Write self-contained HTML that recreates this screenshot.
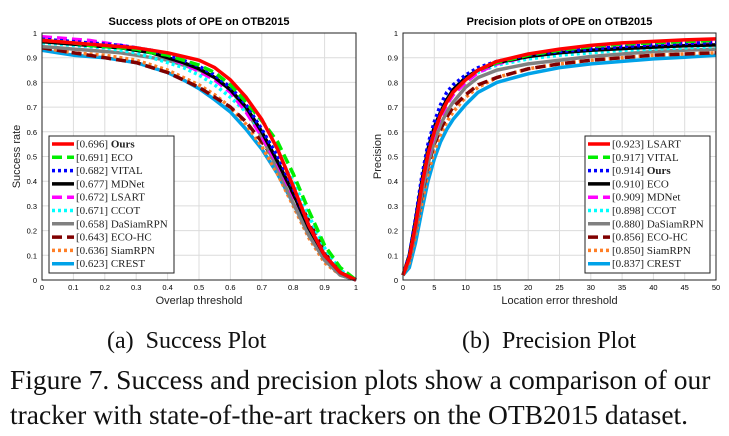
<!DOCTYPE html>
<html><head><meta charset="utf-8"><style>
body{margin:0;background:#fff;width:729px;height:436px;overflow:hidden;position:relative}
svg{position:absolute;left:0;top:0}
.cap{position:absolute;font-family:"Liberation Serif",serif;color:#111;white-space:nowrap}
</style></head><body>
<svg id="fig" width="729" height="436"></svg>
<div class="cap" style="left:107px;top:328px;font-size:24px">(a)&nbsp; Success Plot</div>
<div class="cap" style="left:462px;top:328px;font-size:24px">(b)&nbsp; Precision Plot</div>
<div class="cap" style="left:10px;top:364px;font-size:27.5px">Figure 7. Success and precision plots show a comparison of our</div>
<div class="cap" style="left:10px;top:399px;font-size:27.5px">tracker with state-of-the-art trackers on the OTB2015 dataset.</div>
<script>
const successX=[0,0.05,0.1,0.15,0.2,0.25,0.3,0.35,0.4,0.45,0.5,0.55,0.6,0.65,0.7,0.75,0.8,0.85,0.9,0.95,1];
const sOurs=[0.97,0.965,0.96,0.955,0.95,0.945,0.94,0.93,0.92,0.905,0.89,0.86,0.81,0.74,0.65,0.53,0.38,0.22,0.10,0.03,0];
const sECO=[0.97,0.965,0.96,0.95,0.945,0.94,0.935,0.92,0.91,0.89,0.87,0.84,0.79,0.72,0.645,0.56,0.43,0.28,0.14,0.05,0];
const sVITAL=[0.975,0.97,0.965,0.96,0.955,0.95,0.94,0.93,0.91,0.89,0.865,0.83,0.78,0.71,0.61,0.50,0.37,0.22,0.10,0.03,0];
const sMDNet=[0.965,0.96,0.955,0.95,0.945,0.94,0.93,0.92,0.9,0.88,0.855,0.82,0.77,0.70,0.60,0.48,0.35,0.21,0.10,0.03,0];
const sLSART=[0.985,0.98,0.975,0.97,0.96,0.95,0.94,0.92,0.9,0.875,0.845,0.81,0.76,0.68,0.58,0.47,0.34,0.22,0.10,0.03,0];
const sCCOT=[0.96,0.955,0.95,0.945,0.94,0.93,0.92,0.9,0.88,0.86,0.83,0.79,0.74,0.68,0.60,0.51,0.40,0.26,0.13,0.04,0];
const sDaSiam=[0.945,0.94,0.935,0.93,0.925,0.92,0.91,0.9,0.89,0.87,0.85,0.82,0.77,0.69,0.58,0.45,0.31,0.18,0.08,0.02,0];
const sECOHC=[0.94,0.93,0.92,0.91,0.9,0.89,0.88,0.86,0.84,0.81,0.78,0.74,0.70,0.64,0.56,0.47,0.36,0.24,0.11,0.03,0];
const sSiamRPN=[0.94,0.93,0.92,0.915,0.91,0.9,0.89,0.87,0.85,0.82,0.79,0.75,0.70,0.63,0.54,0.43,0.30,0.17,0.07,0.02,0];
const sCREST=[0.93,0.92,0.91,0.905,0.9,0.89,0.88,0.86,0.84,0.81,0.775,0.73,0.68,0.61,0.53,0.43,0.31,0.19,0.09,0.02,0];
const successScores=["0.696","0.691","0.682","0.677","0.672","0.671","0.658","0.643","0.636","0.623"];

const precX=[0,1,2,3,4,5,6,7,8,10,12,15,20,25,30,35,40,45,50];
const pOurs=[0.02,0.1,0.25,0.42,0.55,0.64,0.71,0.76,0.79,0.83,0.86,0.885,0.91,0.925,0.935,0.945,0.952,0.958,0.962];
const pLSART=[0.02,0.09,0.22,0.38,0.51,0.6,0.67,0.72,0.76,0.81,0.85,0.885,0.915,0.935,0.95,0.96,0.966,0.972,0.976];
const pVITAL=[0.02,0.09,0.22,0.38,0.51,0.6,0.67,0.72,0.76,0.81,0.85,0.88,0.91,0.93,0.945,0.955,0.96,0.965,0.97];
const pECO=[0.02,0.1,0.24,0.4,0.53,0.62,0.68,0.73,0.77,0.82,0.85,0.88,0.905,0.92,0.93,0.937,0.943,0.948,0.952];
const pMDNet=[0.02,0.09,0.22,0.38,0.5,0.59,0.66,0.71,0.75,0.8,0.84,0.875,0.905,0.925,0.94,0.95,0.955,0.96,0.963];
const pCCOT=[0.02,0.1,0.23,0.39,0.52,0.61,0.67,0.72,0.76,0.81,0.84,0.87,0.895,0.91,0.92,0.93,0.935,0.94,0.945];
const pDaSiam=[0.02,0.08,0.2,0.35,0.47,0.56,0.63,0.68,0.72,0.78,0.82,0.85,0.875,0.89,0.905,0.915,0.925,0.93,0.935];
const pECOHC=[0.02,0.08,0.2,0.34,0.46,0.55,0.61,0.66,0.7,0.75,0.79,0.82,0.855,0.875,0.89,0.9,0.91,0.915,0.92];
const pSiamRPN=[0.02,0.07,0.18,0.31,0.43,0.52,0.59,0.64,0.68,0.74,0.78,0.82,0.855,0.875,0.89,0.9,0.91,0.915,0.92];
const pCREST=[0.02,0.05,0.15,0.28,0.4,0.49,0.56,0.61,0.65,0.71,0.76,0.8,0.835,0.86,0.875,0.885,0.895,0.902,0.91];
const precScores=["0.923","0.917","0.914","0.910","0.909","0.898","0.880","0.856","0.850","0.837"];

const successXTicks=["0","0.1","0.2","0.3","0.4","0.5","0.6","0.7","0.8","0.9","1"];
const precXTicks=["0","5","10","15","20","25","30","35","40","45","50"];
const yTicks=["0","0.1","0.2","0.3","0.4","0.5","0.6","0.7","0.8","0.9","1"];

// styles by rank position in legend
const RANK=[{c:"#ff0000",d:""},{c:"#00ee00",d:"10,5"},{c:"#0000ff",d:"3,3"},{c:"#000000",d:""},{c:"#ff00ff",d:"10,5"},{c:"#00ffff",d:"3,3"},{c:"#808080",d:""},{c:"#800000",d:"10,5"},{c:"#ff7f27",d:"3,3"},{c:"#00a2e8",d:""}];
const NS="http://www.w3.org/2000/svg";
const svg=document.getElementById('fig');
function mk(t,a,p){const e=document.createElementNS(NS,t);for(const k in a)e.setAttribute(k,a[k]);(p||svg).appendChild(e);return e;}

function chart(o){
  const g=mk('g',{});
  
  
  const X0=o.x0,X1=o.x1,Y0=33,Y1=280;
  const sx=v=>X0+(v-o.xmin)/(o.xmax-o.xmin)*(X1-X0);
  const sy=v=>Y1-v*(Y1-Y0);
  for(let i=0;i<=10;i++){
    const xv=o.xmin+i*(o.xmax-o.xmin)/10, X=sx(xv);
    mk('line',{x1:X,x2:X,y1:Y0,y2:Y1,stroke:'#dcdcdc','stroke-width':1},g);
    const t=mk('text',{x:X,y:Y1+10,'font-size':7.5,'text-anchor':'middle','font-family':'Liberation Sans,sans-serif'},g);t.textContent=o.xt[i];
    
    const Y=sy(i/10);
    mk('line',{x1:X0,x2:X1,y1:Y,y2:Y,stroke:'#dcdcdc','stroke-width':1},g);
    const u=mk('text',{x:X0-5,y:Y+3,'font-size':7.5,'text-anchor':'end','font-family':'Liberation Sans,sans-serif'},g);u.textContent=yTicks[i];
    
  }
  for(let i=o.series.length-1;i>=0;i--){
    const s=o.series[i], st=RANK[i];
    const pts=o.xs.map((x,j)=>sx(x).toFixed(1)+','+sy(s.v[j]).toFixed(1)).join(' ');
    const e=mk('polyline',{points:pts,fill:'none',stroke:st.c,'stroke-width':3.5,'stroke-dasharray':st.d,'stroke-linejoin':'round'},g);
    
    
  }
  mk('rect',{x:X0,y:Y0,width:X1-X0,height:Y1-Y0,fill:'none',stroke:'#222','stroke-width':1},g);
  const ti=mk('text',{x:(X0+X1)/2,y:25,'font-size':11,'font-weight':'bold','text-anchor':'middle','font-family':'Liberation Sans,sans-serif'},g);ti.textContent=o.title;
  
  const xl=mk('text',{x:(X0+X1)/2,y:304,'font-size':11,'text-anchor':'middle','font-family':'Liberation Sans,sans-serif','fill':'#222'},g);xl.textContent=o.xlab;
  
  const yl=mk('text',{x:0,y:0,'font-size':11,'text-anchor':'middle','font-family':'Liberation Sans,sans-serif','fill':'#222',transform:`translate(${X0-22},${(Y0+Y1)/2}) rotate(-90)`},g);yl.textContent=o.ylab;
  
  const lg=mk('g',{},g);
  
  mk('rect',{x:o.lx,y:136,width:125,height:137,fill:'#fff',stroke:'#222','stroke-width':1},lg);
  o.series.forEach((s,i)=>{
    const y=144+i*13.3, st=RANK[i];
    const ln=mk('line',{x1:o.lx+3,x2:o.lx+25,y1:y,y2:y,stroke:st.c,'stroke-width':3.5,'stroke-dasharray':st.d},lg);
    
    const t=mk('text',{x:o.lx+27,y:y+3.5,'font-size':11,'font-family':'Liberation Serif,serif',fill:'#222'},lg);
    t.textContent='['+o.scores[i]+'] ';
    const b=mk('tspan',{'font-weight':s.n==='Ours'?'bold':'normal'},t);b.textContent=s.n;
    
  });
}
chart({name:'success-plot',x0:42,x1:356,xmin:0,xmax:1,xs:successX,xt:successXTicks,title:'Success plots of OPE on OTB2015',xlab:'Overlap threshold',ylab:'Success rate',lx:49,scores:successScores,
series:[{n:'Ours',v:sOurs},{n:'ECO',v:sECO},{n:'VITAL',v:sVITAL},{n:'MDNet',v:sMDNet},{n:'LSART',v:sLSART},{n:'CCOT',v:sCCOT},{n:'DaSiamRPN',v:sDaSiam},{n:'ECO-HC',v:sECOHC},{n:'SiamRPN',v:sSiamRPN},{n:'CREST',v:sCREST}]});
chart({name:'precision-plot',x0:403,x1:716,xmin:0,xmax:50,xs:precX,xt:precXTicks,title:'Precision plots of OPE on OTB2015',xlab:'Location error threshold',ylab:'Precision',lx:585,scores:precScores,
series:[{n:'LSART',v:pLSART},{n:'VITAL',v:pVITAL},{n:'Ours',v:pOurs},{n:'ECO',v:pECO},{n:'MDNet',v:pMDNet},{n:'CCOT',v:pCCOT},{n:'DaSiamRPN',v:pDaSiam},{n:'ECO-HC',v:pECOHC},{n:'SiamRPN',v:pSiamRPN},{n:'CREST',v:pCREST}]});
</script>
</body></html>
